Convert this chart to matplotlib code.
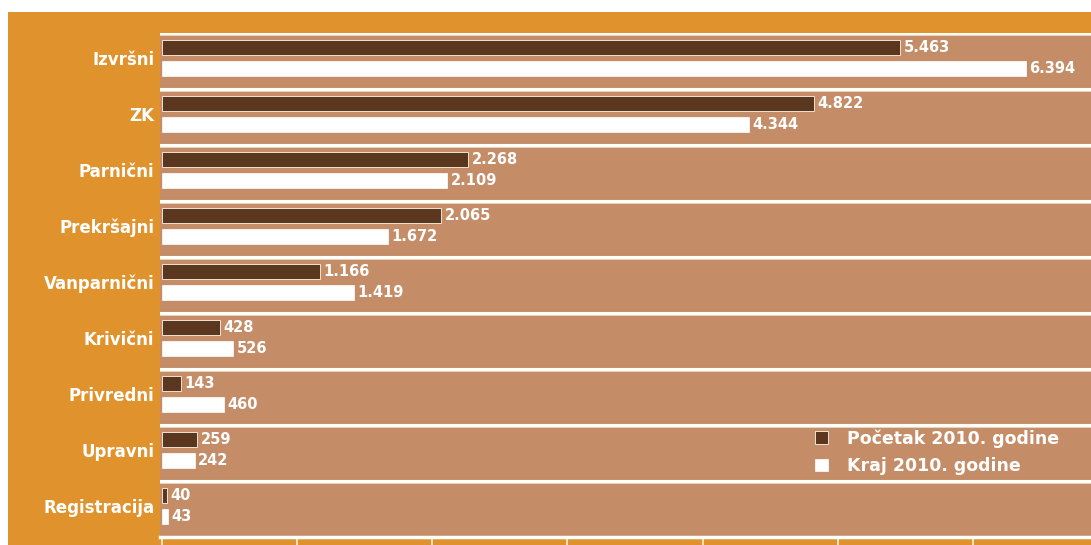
import matplotlib
matplotlib.use("Agg")
import matplotlib.pyplot as plt
from matplotlib.patches import Rectangle
import numpy as np

categories = ["Izvršni", "ZK", "Parnični", "Prekršajni", "Vanparnični",
              "Krivični", "Privredni", "Upravni", "Registracija"]
start_2010 = [5463, 4822, 2268, 2065, 1166, 428, 143, 259, 40]
end_2010 = [6394, 4344, 2109, 1672, 1419, 526, 460, 242, 43]
series_names = ["Početak 2010. godine", "Kraj 2010. godine"]
x_ticks = [0, 1000, 2000, 3000, 4000, 5000, 6000]

ORANGE = "#E0922C"
TAN = "#C48D68"
DARK = "#5A3820"
WHITE = "#FFFFFF"

W, H = 1091, 545
fig = plt.figure(figsize=(W / 100, H / 100), dpi=100, facecolor=WHITE)

# orange frame behind the plot
fig.patches.append(Rectangle((8 / W, 0), 1 - 8 / W, 1 - 12 / H,
                             transform=fig.transFigure, facecolor=ORANGE,
                             edgecolor="none", zorder=-5))

ax = fig.add_axes([160 / W, 8 / H, 1 - 160 / W, (537 - 33) / H])
ax.set_zorder(1)
ax.set_facecolor(TAN)

def fmt(v):
    return f"{v:,}".replace(",", ".")

y = np.arange(len(categories))
h = 0.27
y_dark = y + 0.265
y_white = y + 0.63
ax.barh(y_dark, start_2010, height=h, color=DARK, edgecolor="#F3E3D0",
        linewidth=0.7, left=0, zorder=3, label=series_names[0])
ax.barh(y_white, end_2010, height=h, color=WHITE, edgecolor=WHITE,
        linewidth=0.5, left=0, zorder=3, label=series_names[1])

for yy, v in zip(y_dark, start_2010):
    ax.text(v + 25, yy, fmt(v), va="center", ha="left", color=WHITE,
            fontsize=10.5, fontweight="bold", zorder=4)
for yy, v in zip(y_white, end_2010):
    ax.text(v + 25, yy, fmt(v), va="center", ha="left", color=WHITE,
            fontsize=10.5, fontweight="bold", zorder=4)

for b in range(len(categories)):
    ax.axhline(b, color=WHITE, lw=2.2, zorder=2)
    ax.axhline(b + 0.04, color="#E9D2B8", lw=0.8, zorder=2)

x_max = (W - 162) / ((1026 - 162) / 6394)
ax.set_xlim(-15, x_max)
ax.set_ylim(len(categories), 0)

ax.set_yticks(y + 0.45)
ax.set_yticklabels(categories, color=WHITE, fontsize=12, fontweight="bold")
ax.tick_params(axis="y", length=0, pad=4)
ax.set_xticks(x_ticks)
ax.set_xticklabels([])
ax.tick_params(axis="x", direction="out", length=7, width=1.2, color="#FBEFD8")

for s in ["top", "right", "left"]:
    ax.spines[s].set_visible(False)
ax.spines["bottom"].set_color(WHITE)
ax.spines["bottom"].set_linewidth(2.5)

leg = ax.legend(loc="upper left", bbox_to_anchor=(0.687, 0.245), frameon=False,
                handlelength=0.75, handleheight=0.75, handletextpad=1.1,
                labelspacing=0.55, fontsize=12.5)
for t in leg.get_texts():
    t.set_color(WHITE)
    t.set_fontweight("bold")

fig.savefig("out.png", dpi=100, facecolor=WHITE)
